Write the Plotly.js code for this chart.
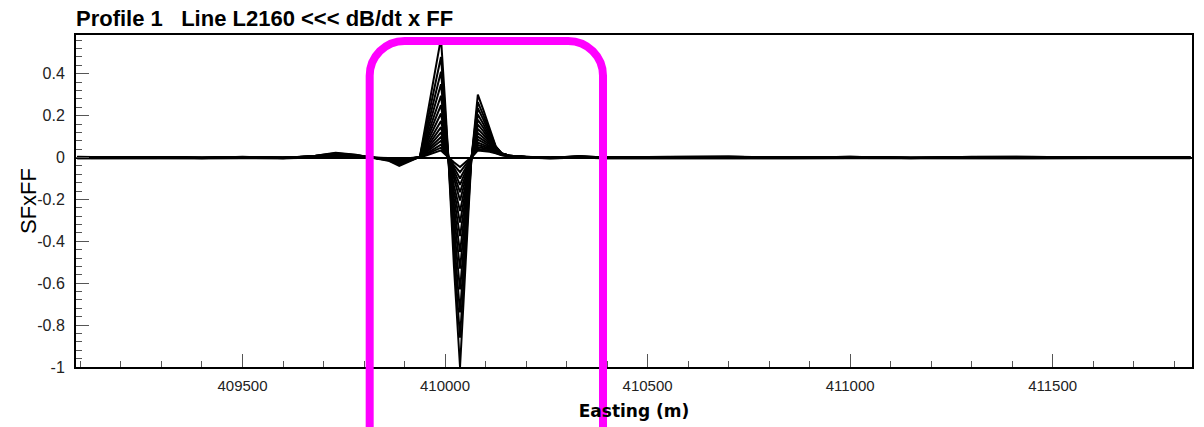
<!DOCTYPE html>
<html>
<head>
<meta charset="utf-8">
<script src="https://cdn.plot.ly/plotly-3.0.1.min.js"></script>
<style>
  html, body { margin: 0; padding: 0; background: #ffffff; }
  #chart { width: 1204px; height: 427px; }
</style>
</head>
<body>
<div id="chart"></div>
<script>
// ---------- DATA ----------
const easting = [
  409092, 409200, 409300, 409400, 409500, 409600, 409680, 409730, 409780, 409830,
  409860, 409887, 409915, 409938, 409955, 409972, 409990, 410000, 410008, 410022,
  410037, 410051, 410065, 410072, 410081, 410095, 410110, 410125, 410140, 410160,
  410200, 410260, 410332, 410400, 410550, 410700, 410850, 411000, 411150, 411300,
  411450, 411600, 411750, 411840
];

const ch01 = [0.003,-0.002,0.003,-0.003,0.004,-0.003,0.009,0.023,0.013,-0.004,
  -0.015,-0.04,-0.015,0.004,0.19,0.375,0.57,0.27,0.01,-0.52,-1.0,-0.5,-0.01,
  0.126,0.30,0.225,0.14,0.055,0.02,0.008,
  0.004,-0.002,0.007,-0.001,0.003,0.005,-0.002,0.004,-0.003,0.004,0.003,-0.002,0.003,-0.001];
const ch02 = [0.004,0.0,0.003,-0.002,0.003,-0.002,0.008,0.02,0.012,-0.003,
  -0.013,-0.034,-0.013,0.004,0.16,0.315,0.48,0.225,0.008,-0.447,-0.86,-0.43,-0.008,
  0.111,0.265,0.2,0.127,0.052,0.02,0.008,
  0.004,-0.001,0.006,0.0,0.004,0.004,-0.001,0.004,-0.002,0.003,0.004,-0.001,0.002,0.0];
const ch03 = [0.002,-0.001,0.001,-0.002,0.003,-0.001,0.007,0.018,0.011,-0.002,
  -0.011,-0.029,-0.011,0.003,0.135,0.27,0.41,0.193,0.006,-0.385,-0.74,-0.37,-0.006,
  0.099,0.235,0.18,0.116,0.05,0.02,0.008,
  0.003,-0.001,0.005,-0.001,0.002,0.004,-0.001,0.002,-0.002,0.003,0.002,-0.001,0.003,0.0];
const ch04 = [0.002,0.0,0.002,-0.001,0.002,-0.001,0.006,0.016,0.009,-0.002,
  -0.01,-0.025,-0.01,0.003,0.115,0.23,0.35,0.165,0.005,-0.328,-0.63,-0.315,-0.005,
  0.086,0.205,0.159,0.104,0.047,0.019,0.008,
  0.003,0.0,0.004,0.0,0.002,0.003,0.0,0.002,-0.001,0.002,0.002,0.0,0.002,0.001];
const ch05 = [0.001,-0.001,0.001,-0.002,0.001,-0.001,0.005,0.014,0.008,-0.002,
  -0.009,-0.021,-0.009,0.002,0.097,0.195,0.295,0.139,0.004,-0.276,-0.53,-0.265,-0.004,
  0.076,0.18,0.141,0.095,0.045,0.019,0.008,
  0.002,-0.001,0.004,-0.001,0.001,0.002,-0.001,0.001,-0.002,0.001,0.001,-0.001,0.001,-0.001];
const ch06 = [0.0,-0.001,0.001,-0.001,0.001,-0.001,0.004,0.012,0.007,-0.001,
  -0.008,-0.018,-0.008,0.002,0.083,0.165,0.25,0.118,0.003,-0.234,-0.45,-0.225,-0.003,
  0.066,0.157,0.125,0.086,0.043,0.018,0.007,
  0.002,-0.001,0.003,0.0,0.001,0.002,-0.001,0.001,-0.001,0.001,0.001,-0.001,0.001,0.0];
const ch07 = [0.001,0.0,0.0,-0.001,0.001,-0.001,0.003,0.011,0.006,-0.001,
  -0.007,-0.015,-0.007,0.002,0.07,0.14,0.21,0.099,0.002,-0.195,-0.375,-0.188,-0.002,
  0.057,0.136,0.109,0.078,0.041,0.018,0.007,
  0.002,-0.001,0.003,0.0,0.001,0.001,0.0,0.001,-0.001,0.001,0.001,0.0,0.001,0.0];
const ch08 = [0.0,0.0,0.001,-0.001,0.0,-0.001,0.003,0.01,0.006,-0.001,
  -0.006,-0.013,-0.006,0.001,0.058,0.115,0.175,0.082,0.002,-0.161,-0.31,-0.155,-0.002,
  0.049,0.117,0.095,0.069,0.038,0.017,0.007,
  0.002,0.0,0.003,0.0,0.001,0.001,0.0,0.001,-0.001,0.0,0.001,0.0,0.0,0.0];
const ch09 = [0.0,-0.001,0.0,-0.001,0.0,-0.001,0.002,0.009,0.005,-0.001,
  -0.005,-0.011,-0.005,0.001,0.048,0.095,0.145,0.068,0.001,-0.133,-0.255,-0.128,-0.001,
  0.042,0.1,0.082,0.062,0.036,0.016,0.007,
  0.001,-0.001,0.002,-0.001,0.0,0.0,-0.001,0.0,-0.001,0.0,-0.001,0.0,-0.001,0.0];
const ch10 = [-0.001,-0.001,-0.001,-0.002,-0.001,-0.001,0.002,0.008,0.004,-0.001,
  -0.004,-0.009,-0.004,0.001,0.04,0.08,0.12,0.056,0.001,-0.107,-0.205,-0.103,-0.001,
  0.036,0.085,0.071,0.055,0.033,0.015,0.006,
  0.001,-0.001,0.001,-0.001,-0.001,0.0,-0.001,-0.001,-0.002,-0.001,-0.001,-0.001,-0.001,-0.001];
const ch11 = [-0.001,-0.002,-0.001,-0.002,-0.001,-0.002,0.001,0.007,0.003,-0.002,
  -0.004,-0.008,-0.004,0.0,0.032,0.065,0.098,0.046,0.0,-0.086,-0.165,-0.083,0.0,
  0.03,0.072,0.061,0.049,0.031,0.015,0.006,
  0.001,-0.002,0.001,-0.002,-0.001,-0.001,-0.002,-0.001,-0.002,-0.001,-0.002,-0.001,-0.002,-0.001];
const ch12 = [-0.002,-0.002,-0.002,-0.003,-0.002,-0.003,0.0,0.006,0.002,-0.002,
  -0.003,-0.007,-0.003,0.0,0.026,0.053,0.08,0.038,0.0,-0.068,-0.13,-0.065,0.0,
  0.025,0.06,0.052,0.043,0.028,0.014,0.006,
  0.0,-0.002,0.0,-0.002,-0.002,-0.002,-0.003,-0.002,-0.003,-0.002,-0.002,-0.002,-0.002,-0.002];
const ch13 = [-0.002,-0.003,-0.002,-0.003,-0.002,-0.003,0.0,0.005,0.002,-0.002,
  -0.003,-0.006,-0.003,0.0,0.02,0.041,0.062,0.029,0.0,-0.052,-0.1,-0.05,0.0,
  0.021,0.05,0.044,0.038,0.026,0.013,0.006,
  0.0,-0.003,0.0,-0.002,-0.003,-0.002,-0.003,-0.002,-0.003,-0.002,-0.003,-0.002,-0.003,-0.002];
const ch14 = [-0.003,-0.003,-0.002,-0.004,-0.003,-0.003,-0.001,0.005,0.001,-0.003,
  -0.002,-0.005,-0.002,0.0,0.016,0.031,0.047,0.022,0.0,-0.036,-0.07,-0.035,0.0,
  0.017,0.041,0.037,0.032,0.023,0.012,0.005,
  -0.001,-0.003,-0.001,-0.003,-0.003,-0.003,-0.004,-0.003,-0.003,-0.003,-0.003,-0.003,-0.003,-0.002];
const ch15 = [-0.003,-0.004,-0.003,-0.004,-0.003,-0.004,-0.001,0.004,0.001,-0.003,
  -0.002,-0.004,-0.002,0.0,0.011,0.022,0.034,0.016,0.0,-0.023,-0.045,-0.023,0.0,
  0.014,0.034,0.031,0.027,0.02,0.011,0.005,
  -0.001,-0.004,-0.001,-0.003,-0.004,-0.003,-0.004,-0.003,-0.004,-0.003,-0.003,-0.004,-0.003,-0.003];

const channels = [ch01, ch02, ch03, ch04, ch05, ch06, ch07, ch08, ch09, ch10, ch11, ch12, ch13, ch14, ch15];

const xTickVals = [409500, 410000, 410500, 411000, 411500];
const xTickText = ['409500', '410000', '410500', '411000', '411500'];
const yTickVals = [0.4, 0.2, 0, -0.2, -0.4, -0.6, -0.8, -1];
const yTickText = ['0.4', '0.2', '0', '-0.2', '-0.4', '-0.6', '-0.8', '-1'];

const titleText = 'Profile 1\u00a0\u00a0\u00a0Line L2160 &lt;&lt;&lt; dB/dt x FF';
const yTitleText = 'SFxFF';
const xTitleText = 'Easting (m)';

// ---------- highlight frame (annotation overlay, not data) ----------
const frame = { xLeft: 409814, xRight: 410390, yTop: 0.982, yBottom: -0.25, rx: 86, ry: 0.105 };

function framePath(f) {
  const k = 0.5523;
  const yc = f.yTop - f.ry;
  return 'M' + f.xLeft + ',' + f.yBottom +
    ' L' + f.xLeft + ',' + yc +
    ' C' + f.xLeft + ',' + (yc + f.ry * k) + ' ' + (f.xLeft + f.rx - f.rx * k) + ',' + f.yTop + ' ' + (f.xLeft + f.rx) + ',' + f.yTop +
    ' L' + (f.xRight - f.rx) + ',' + f.yTop +
    ' C' + (f.xRight - f.rx + f.rx * k) + ',' + f.yTop + ' ' + f.xRight + ',' + (yc + f.ry * k) + ' ' + f.xRight + ',' + yc +
    ' L' + f.xRight + ',' + f.yBottom;
}

const traces = channels.map(function (vals) {
  return {
    x: easting, y: vals, type: 'scatter', mode: 'lines',
    line: { color: '#000000', width: 2 },
    hoverinfo: 'skip'
  };
});

const layout = {
  width: 1204, height: 427,
  margin: { l: 76, r: 12, t: 35, b: 60, pad: 0 },
  paper_bgcolor: '#ffffff', plot_bgcolor: '#ffffff',
  showlegend: false,
  title: {
    text: titleText,
    font: { family: 'Liberation Sans, Arial, sans-serif', size: 22, color: '#000000', weight: 'bold' },
    x: 0, xref: 'paper', xanchor: 'left',
    y: 0.958, yref: 'container', yanchor: 'middle'
  },
  xaxis: {
    range: [409089, 411844],
    showgrid: false, zeroline: false,
    showline: true, mirror: true, linecolor: '#000000', linewidth: 2,
    ticks: 'inside', ticklen: 13, tickwidth: 1, tickcolor: '#555555',
    tickmode: 'array', tickvals: xTickVals, ticktext: xTickText,
    tickfont: { family: 'Liberation Sans, Arial, sans-serif', size: 15, color: '#222222' },
    ticklabelstandoff: 4,
    minor: { dtick: 100, tick0: 409000, ticks: 'inside', ticklen: 6, tickwidth: 1, tickcolor: '#555555', showgrid: false },
    title: {
      text: xTitleText,
      font: { family: 'DejaVu Sans, Verdana, sans-serif', size: 17, color: '#000000', weight: 'bold' },
      standoff: 12
    },
    automargin: false
  },
  yaxis: {
    range: [-1.0, 0.585],
    showgrid: false,
    zeroline: true, zerolinecolor: '#000000', zerolinewidth: 2,
    showline: true, mirror: true, linecolor: '#000000', linewidth: 2,
    ticks: 'inside', ticklen: 13, tickwidth: 1, tickcolor: '#555555',
    tickmode: 'array', tickvals: yTickVals, ticktext: yTickText,
    tickfont: { family: 'Liberation Sans, Arial, sans-serif', size: 16, color: '#222222' },
    ticklabelstandoff: 6,
    minor: { dtick: 0.04, tick0: 0, ticks: 'inside', ticklen: 6, tickwidth: 1, tickcolor: '#555555', showgrid: false },
    automargin: false
  },
  annotations: [{
    text: yTitleText, textangle: -90, showarrow: false,
    xref: 'paper', yref: 'paper', x: -0.043, y: 0.5,
    xanchor: 'center', yanchor: 'middle',
    font: { family: 'Liberation Sans, Arial, sans-serif', size: 22, color: '#000000' }
  }],
  shapes: [{
    type: 'path', xref: 'x', yref: 'paper', layer: 'above',
    path: framePath(frame),
    line: { color: '#ff00ff', width: 8 }
  }]
};

Plotly.newPlot('chart', traces, layout, { staticPlot: true, displayModeBar: false });
</script>
</body>
</html>
